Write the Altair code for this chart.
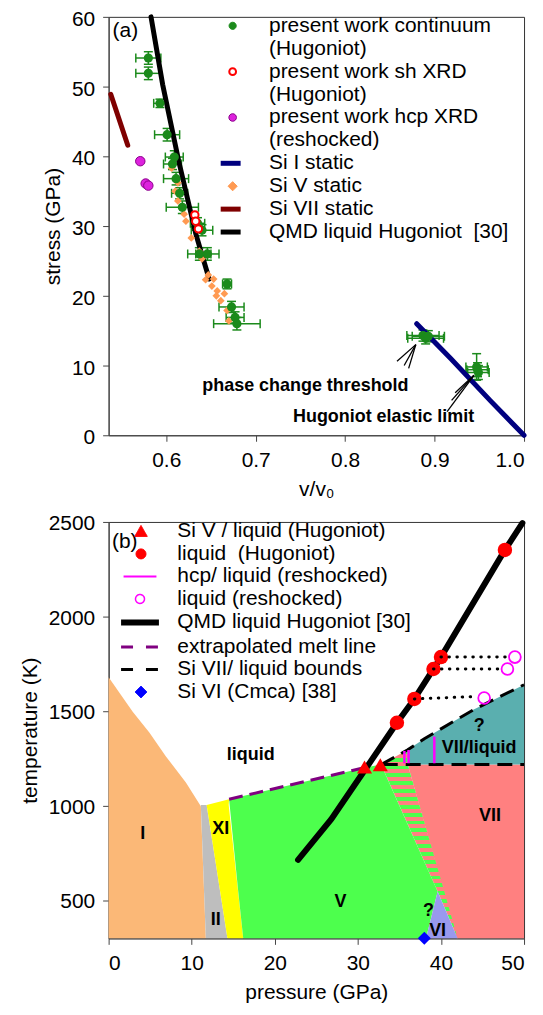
import altair as alt
import pandas as pd

FONT = "Liberation Sans"

# ======================= panel (a) data =======================
cont_v = [0.580, 0.580, 0.593, 0.601, 0.609, 0.607, 0.611, 0.615, 0.618, 0.635, 0.640,
          0.637, 0.646, 0.668, 0.673, 0.677, 0.679, 0.887, 0.890, 0.893, 0.947, 0.949, 0.948]
cont_s = [54.1, 51.9, 47.6, 43.1, 39.9, 38.9, 36.8, 34.7, 32.7, 30.4, 29.4,
          26.0, 26.0, 21.7, 18.4, 16.9, 16.0, 14.3, 13.9, 14.2, 9.8, 9.0, 9.4]
cont_verr = [0.014, 0.014, 0.007, 0.014, 0.010, 0.010, 0.014, 0.009, 0.018, 0.008, 0.012,
             0.013, 0.013, 0.005, 0.014, 0.010, 0.026, 0.018, 0.020, 0.018, 0.012, 0.012, 0.012]
cont_serr = [0.9, 0.9, 0.6, 0.9, 0.9, 0.8, 0.9, 0.8, 0.9, 0.8, 0.8,
             0.9, 0.9, 0.7, 0.8, 0.8, 0.9, 0.8, 0.8, 0.8, 1.9, 1.0, 1.0]

sh_v = [0.632, 0.633, 0.636]
sh_s = [31.6, 30.7, 29.6]

hcp_v = [0.571, 0.577, 0.580]
hcp_s = [39.3, 36.1, 35.8]

siV_v = [0.606, 0.606, 0.613, 0.610, 0.613, 0.620, 0.622, 0.628, 0.637, 0.640,
         0.644, 0.653, 0.651, 0.657, 0.656, 0.665, 0.661, 0.668, 0.670, 0.647]
siV_s = [39.0, 38.3, 36.2, 35.0, 33.6, 31.7, 30.7, 28.3, 26.4, 25.3,
         22.3, 22.4, 21.4, 20.7, 20.0, 20.3, 19.3, 17.9, 16.4, 23.0]

siI_v = [0.880, 0.918, 0.962, 1.000]
siI_s = [16.0, 11.0, 5.0, 0.0]

siVII_v = [0.538, 0.557]
siVII_s = [48.9, 41.6]

qmdA_v = [0.583, 0.596, 0.614, 0.633, 0.648]
qmdA_s = [60.0, 50.3, 39.3, 28.9, 22.4]

annA_text = ["phase change threshold", "Hugoniot elastic limit"]
annA_v = [0.7556, 0.843]
annA_s = [7.1, 2.6]

arrA_v = [0.858, 0.866, 0.871, 0.914, 0.919, 0.923]
arrA_s = [10.6, 10.0, 9.6, 3.4, 5.0, 6.1]
arrA_v2 = [0.879, 0.879, 0.879, 0.944, 0.944, 0.944]
arrA_s2 = [13.0, 13.0, 13.0, 8.6, 8.6, 8.6]

tagA_v = [0.540]
tagA_s = [57.9]
tagA_text = ["(a)"]

A_NAMES = ["present work continuum", "(Hugoniot)", "present work sh XRD", "(Hugoniot) ",
           "present work hcp XRD", "(reshocked)", "Si I static", "Si V static",
           "Si VII static", "QMD liquid Hugoniot\u00a0 [30]"]

# ======================= panel (b) data =======================
I_T = [300, 998, 1124, 1261, 1387, 1497, 1597, 1680]
I_L = [0, 0, 0, 0, 0, 0, 0, 0]
I_R = [11.7, 11.1, 9.3, 6.9, 4.9, 2.9, 1.3, 0.0]

II_T = [300, 1005]
II_L = [11.7, 11.1]
II_R = [14.3, 11.8]

XI_T = [300, 1005, 1035]
XI_L = [14.3, 11.8, 14.5]
XI_R = [16.2, 14.45, 14.5]

V_T = [300, 547, 1035, 1203, 1218]
V_L = [16.2, 15.6, 14.5, 30.9, 32.8]
V_R = [38.2, 39.6, 34.65, 32.95, 32.8]

VII_T = [300, 1218]
VII_L = [41.9, 36.0]
VII_R = [50, 50]

CHK_T = [300, 547, 1218, 1296]
CHK_L = [42.0, 39.6, 32.8, 36.0]
CHK_R = [42.0, 40.4, 36.0, 36.0]

VI_T = [300, 547]
VI_L = [38.2, 39.6]
VI_R = [42.0, 39.6]

TEAL_T = [1218, 1296, 1355, 1510, 1640]
TEAL_L = [36.0, 36.0, 38.0, 44.0, 50.0]
TEAL_R = [50, 50, 50, 50, 50]

qmdB_P = [22.8, 26.8, 31.0, 34.7, 36.8, 40.0, 47.7, 49.8]
qmdB_T = [715, 930, 1200, 1439, 1565, 1786, 2352, 2494]

melt_P = [14.5, 30.9]
melt_T = [1035, 1203]

bnd_seg = ["u", "u", "u", "u", "u", "h", "h"]
bnd_P = [32.8, 36.0, 38.0, 44.0, 50.0, 33.0, 50.0]
bnd_T = [1218, 1296, 1355, 1510, 1640, 1218, 1218]

tri_P = [30.8, 32.7]
tri_T = [1205, 1217]

liqH_P = [34.7, 36.8, 39.1, 40.0, 47.7]
liqH_T = [1439, 1565, 1723, 1786, 2352]

liqR_P = [45.2, 48.0, 48.9]
liqR_T = [1570, 1723, 1786]

dot_seg = [1, 1, 2, 2, 3, 3]
dot_P = [36.8, 44.4, 39.1, 47.2, 40.0, 48.1]
dot_T = [1565, 1578, 1723, 1723, 1786, 1786]

hcpB_P = [35.6, 36.1, 39.2]
hcpB_T = [1225, 1225, 1225]
hcpB_T2 = [1290, 1295, 1366]

siVI_P = [38.0]
siVI_T = [300]

labB_text = ["liquid", "I", "II", "XI", "V", "VII", "?", "VI", "?", "VII/liquid"]
labB_P = [17.1, 4.1, 12.9, 13.5, 27.9, 45.9, 38.5, 39.6, 44.6, 44.6]
labB_T = [1266, 851, 395, 877, 494, 946, 442, 337, 1423, 1308]

tagB_P = [0.4]
tagB_T = [2395]
tagB_text = ["(b)"]

B_NAMES = ["Si V / liquid (Hugoniot)", "liquid \u00a0(Hugoniot)", "hcp/ liquid (reshocked)",
           "liquid (reshocked)", "QMD liquid Hugoniot [30]", "extrapolated melt line",
           "Si VII/ liquid bounds", "Si VI (Cmca) [38]"]

# ======================= styles =======================
GREEN = "#1B8A1B"
ORANGE = "#FF9A52"
NAVY = "#00007F"
DARKRED = "#7F0000"
MAG = "#DD22DD"
MAGDARK = "#8B008B"
PINK = "#FF00FF"
PURPLE = "#800080"
TR = "transparent"

C_ORANGE = "#FBB877"
C_GRAY = "#BEBEBE"
C_YELLOW = "#FFFF00"
C_GREEN = "#4DFF4D"
C_VI = "#9999EE"
C_VII = "#FF8080"
C_TEAL = "#5AAFAF"

ENTRY = 21  # legend entry box (px); symbol size chosen so sqrt(size)+strokeWidth == ENTRY


def r3(x):
    return round(x, 4)


# legend symbol paths, in pixels, converted to Vega's unit box (scale k = sqrt(size)/2)
def sym_path(kind, dims, wpx, sw, dxpx=0.0):
    k = (ENTRY - sw) / 2.0
    w = r3(wpx / k)
    dx = dxpx / k
    padp = f"M{-w},0M{w},0"
    if kind == "pad":
        return padp
    if kind == "circle":
        r = dims / k
        return (f"M{-w},0M{r3(dx + r)},0A{r3(r)},{r3(r)} 0 1,1 {r3(dx - r)},0"
                f"A{r3(r)},{r3(r)} 0 1,1 {r3(dx + r)},0ZM{w},0")
    if kind == "diamond":
        h = dims / k
        return f"M{-w},0M{r3(dx)},{r3(-h)}L{r3(dx + h)},0L{r3(dx)},{r3(h)}L{r3(dx - h)},0ZM{w},0"
    if kind == "triangle":
        hw, top, bot = (d / k for d in dims)
        return f"M{-w},0M{r3(dx)},{r3(-top)}L{r3(dx + hw)},{r3(bot)}L{r3(dx - hw)},{r3(bot)}ZM{w},0"
    if kind == "line":
        h = dims / k
        return f"M{-w},0M{r3(dx - h)},0L{r3(dx + h)},0M{w},0"
    return padp


A_SW = [1, 1, 2, 1, 1, 1, 5, 1, 5, 5]
A_KIND = [("circle", 3.6), ("pad", 0), ("circle", 3.4), ("pad", 0), ("circle", 3.8), ("pad", 0),
          ("line", 10), ("diamond", 4.6), ("line", 10), ("line", 10)]
A_DX = [2, 0, 2, 0, 2, 0, 0, 2, 0, 0]
A_SHAPE = [sym_path(kd, dm, 10, sw, dx) for (kd, dm), sw, dx in zip(A_KIND, A_SW, A_DX)]
A_SIZE = [(ENTRY - sw) ** 2 for sw in A_SW]
A_FILL = [GREEN, TR, "white", TR, MAG, TR, TR, ORANGE, TR, TR]
A_STROKE = [GREEN, TR, "red", TR, MAGDARK, TR, NAVY, ORANGE, DARKRED, "black"]

B_SW = [1, 1, 2, 1.5, 6, 3, 3, 1]
B_KIND = [("triangle", (6.3, 6.0, 5.0)), ("circle", 5.0), ("line", 16.5), ("circle", 4.5),
          ("line", 19), ("line", 19), ("line", 19), ("diamond", 6.0)]
B_DX = [1, 1, 0, 0, 0, 0, 0, 1]
B_SHAPE = [sym_path(kd, dm, 19, sw, dx) for (kd, dm), sw, dx in zip(B_KIND, B_SW, B_DX)]
B_SIZE = [(ENTRY - sw) ** 2 for sw in B_SW]
B_FILL = ["red", "red", TR, TR, TR, TR, TR, "blue"]
B_STROKE = ["red", "red", PINK, PINK, "black", PURPLE, "black", "blue"]
B_DASH = [[1, 0], [1, 0], [1, 0], [1, 0], [1, 0], [12, 13], [12, 13], [1, 0]]


def legend_carrier(names, legend, fill, stroke, shape, size, sw, xenc, yenc, dash=None):
    empty = pd.DataFrame({"series": pd.Series([], dtype=str),
                          "px": pd.Series([], dtype=float), "py": pd.Series([], dtype=float)})
    enc = dict(
        x=xenc("px"), y=yenc("py"),
        fill=alt.Fill("series:N", scale=alt.Scale(domain=names, range=fill), legend=legend),
        stroke=alt.Stroke("series:N", scale=alt.Scale(domain=names, range=stroke), legend=legend),
        shape=alt.Shape("series:N", scale=alt.Scale(domain=names, range=shape), legend=legend),
        size=alt.Size("series:N", scale=alt.Scale(type="ordinal", domain=names, range=size), legend=legend),
        strokeWidth=alt.StrokeWidth("series:N", scale=alt.Scale(type="ordinal", domain=names, range=sw),
                                    legend=legend),
    )
    if dash is not None:
        enc["strokeDash"] = alt.StrokeDash("series:N", scale=alt.Scale(domain=names, range=dash), legend=legend)
    return alt.Chart(empty).mark_point(opacity=1).encode(**enc)


# ======================= panel (a) chart =======================
sxa = alt.Scale(domain=[0.5356, 1.0], nice=False, zero=False)
sya = alt.Scale(domain=[0, 60], nice=False, zero=False)
axa_x = alt.Axis(title="v/v\u2080", values=[0.6, 0.7, 0.8, 0.9, 1.0], format=".1f")
axa_y = alt.Axis(title="stress (GPa)", values=[0, 10, 20, 30, 40, 50, 60], labelOffset=2.5)


def XA(f):
    return alt.X(f"{f}:Q", scale=sxa, axis=axa_x)


def YA(f):
    return alt.Y(f"{f}:Q", scale=sya, axis=axa_y)


legA = alt.Legend(title=None, orient="none", legendX=112, legendY=-1.5, labelFont=FONT,
                  labelFontSize=21, labelColor="black", labelLimit=450, labelOffset=28,
                  rowPadding=1, padding=0)

df_cont = pd.DataFrame({"v": cont_v, "s": cont_s, "ve": cont_verr, "se": cont_serr})
base_err = alt.Chart(df_cont).transform_calculate(
    vlo="datum.v - datum.ve", vhi="datum.v + datum.ve",
    slo="datum.s - datum.se", shi="datum.s + datum.se")
err_h = base_err.mark_rule(color=GREEN, strokeWidth=1.5).encode(x=XA("vlo"), x2=alt.X2("vhi"), y=YA("s"))
err_v = base_err.mark_rule(color=GREEN, strokeWidth=1.5).encode(x=XA("v"), y=YA("slo"), y2=alt.Y2("shi"))
cap_l = base_err.mark_tick(orient="vertical", color=GREEN, size=9, thickness=1.5, opacity=1).encode(x=XA("vlo"), y=YA("s"))
cap_r = base_err.mark_tick(orient="vertical", color=GREEN, size=9, thickness=1.5, opacity=1).encode(x=XA("vhi"), y=YA("s"))
cap_b = base_err.mark_tick(orient="horizontal", color=GREEN, size=9, thickness=1.5, opacity=1).encode(x=XA("v"), y=YA("slo"))
cap_t = base_err.mark_tick(orient="horizontal", color=GREEN, size=9, thickness=1.5, opacity=1).encode(x=XA("v"), y=YA("shi"))


def line_a(vv, ss, color, width):
    return alt.Chart(pd.DataFrame({"v": vv, "s": ss})).mark_line(
        color=color, strokeWidth=width, strokeCap="round").encode(x=XA("v"), y=YA("s"))


l_siI = line_a(siI_v, siI_s, NAVY, 5)
l_siVII = line_a(siVII_v, siVII_s, DARKRED, 5)
l_qmdA = line_a(qmdA_v, qmdA_s, "black", 5)

p_siV = alt.Chart(pd.DataFrame({"v": siV_v, "s": siV_s})).mark_point(
    shape="diamond", filled=True, color=ORANGE, size=60, opacity=1).encode(x=XA("v"), y=YA("s"))
p_cont = alt.Chart(pd.DataFrame({"v": cont_v, "s": cont_s})).mark_point(
    shape="circle", filled=True, color=GREEN, size=85, opacity=1).encode(x=XA("v"), y=YA("s"))
p_hcp = alt.Chart(pd.DataFrame({"v": hcp_v, "s": hcp_s})).mark_point(
    shape="circle", filled=True, fill=MAG, stroke=MAGDARK, strokeWidth=1, size=90, opacity=1).encode(
    x=XA("v"), y=YA("s"))
p_sh = alt.Chart(pd.DataFrame({"v": sh_v, "s": sh_s})).mark_point(
    shape="circle", fill="white", stroke="red", strokeWidth=2, size=55, opacity=1).encode(
    x=XA("v"), y=YA("s"))

ann_a = alt.Chart(pd.DataFrame({"v": annA_v, "s": annA_s, "t": annA_text})).mark_text(
    font=FONT, fontSize=18, fontWeight="bold", color="black").encode(x=XA("v"), y=YA("s"), text="t:N")
arr_a = alt.Chart(pd.DataFrame({"v": arrA_v, "s": arrA_s, "v2": arrA_v2, "s2": arrA_s2})).mark_rule(
    color="black", strokeWidth=1.3).encode(x=XA("v"), y=YA("s"), x2=alt.X2("v2"), y2=alt.Y2("s2"))
tag_a = alt.Chart(pd.DataFrame({"v": tagA_v, "s": tagA_s, "t": tagA_text})).mark_text(
    font=FONT, fontSize=21, align="left", color="black").encode(x=XA("v"), y=YA("s"), text="t:N")

leg_a = legend_carrier(A_NAMES, legA, A_FILL, A_STROKE, A_SHAPE, A_SIZE, A_SW, XA, YA)

panel_a = alt.layer(err_h, err_v, cap_l, cap_r, cap_b, cap_t, l_siI, l_siVII, l_qmdA,
                    p_siV, p_cont, p_hcp, p_sh, ann_a, arr_a, tag_a, leg_a).properties(
    width=417, height=420)

# ======================= panel (b) chart =======================
sxb = alt.Scale(domain=[0, 50], nice=False, zero=False)
syb = alt.Scale(domain=[300, 2500], nice=False, zero=False)
axb_x = alt.Axis(title="pressure (GPa)", values=[0, 10, 20, 30, 40, 50])
axb_y = alt.Axis(title="temperature (K)", values=[500, 1000, 1500, 2000, 2500], format="d",
                 labelOffset=1.5)


def XB(f):
    return alt.X(f"{f}:Q", scale=sxb, axis=axb_x)


def YB(f):
    return alt.Y(f"{f}:Q", scale=syb, axis=axb_y)


legB = alt.Legend(title=None, orient="none", legendX=21, legendY=-1, labelFont=FONT,
                  labelFontSize=21, labelColor="black", labelLimit=450, labelOffset=27,
                  rowPadding=0.6, padding=0)


def region(Tv, Lv, Rv, color):
    return alt.Chart(pd.DataFrame({"T": Tv, "L": Lv, "R": Rv})).mark_area(
        orient="horizontal", color=color, opacity=1).encode(y=YB("T"), x=XB("L"), x2=alt.X2("R"))


stops = []
NSTRIPE = 48
for i in range(NSTRIPE):
    c = C_GREEN if i % 2 == 0 else C_VII
    stops.append(alt.GradientStop(color=c, offset=i / NSTRIPE))
    stops.append(alt.GradientStop(color=c, offset=(i + 1) / NSTRIPE))
checker = alt.Gradient(gradient="linear", stops=stops, x1=0, x2=0, y1=0, y2=1)

reg_I = region(I_T, I_L, I_R, C_ORANGE)
reg_II = region(II_T, II_L, II_R, C_GRAY)
reg_XI = region(XI_T, XI_L, XI_R, C_YELLOW)
reg_VII = region(VII_T, VII_L, VII_R, C_VII)
reg_CHK = region(CHK_T, CHK_L, CHK_R, checker)
reg_V = region(V_T, V_L, V_R, C_GREEN)
reg_VI = region(VI_T, VI_L, VI_R, C_VI)
reg_TEAL = region(TEAL_T, TEAL_L, TEAL_R, C_TEAL)

l_melt = alt.Chart(pd.DataFrame({"P": melt_P, "T": melt_T})).mark_line(
    color=PURPLE, strokeWidth=3, strokeDash=[14, 7]).encode(x=XB("P"), y=YB("T"))
l_bnd = alt.Chart(pd.DataFrame({"P": bnd_P, "T": bnd_T, "seg": bnd_seg})).mark_line(
    color="black", strokeWidth=3, strokeDash=[15, 8]).encode(x=XB("P"), y=YB("T"), detail="seg:N")
l_qmdB = alt.Chart(pd.DataFrame({"P": qmdB_P, "T": qmdB_T})).mark_line(
    color="black", strokeWidth=6, strokeCap="round").encode(x=XB("P"), y=YB("T"))
r_hcp = alt.Chart(pd.DataFrame({"P": hcpB_P, "T": hcpB_T, "T2": hcpB_T2})).mark_rule(
    color=PINK, strokeWidth=2.5).encode(x=XB("P"), y=YB("T"), y2=alt.Y2("T2"))

p_tri = alt.Chart(pd.DataFrame({"P": tri_P, "T": tri_T})).mark_point(
    shape="triangle-up", filled=True, color="red", size=230, opacity=1).encode(x=XB("P"), y=YB("T"))
p_liqH = alt.Chart(pd.DataFrame({"P": liqH_P, "T": liqH_T})).mark_point(
    shape="circle", filled=True, color="red", size=210, opacity=1).encode(x=XB("P"), y=YB("T"))
p_liqR = alt.Chart(pd.DataFrame({"P": liqR_P, "T": liqR_T})).mark_point(
    shape="circle", color=PINK, strokeWidth=1.8, size=140, opacity=1).encode(x=XB("P"), y=YB("T"))
p_siVI = alt.Chart(pd.DataFrame({"P": siVI_P, "T": siVI_T})).mark_point(
    shape="diamond", filled=True, color="blue", size=170, opacity=1, clip=False).encode(x=XB("P"), y=YB("T"))

dots_b = alt.Chart(pd.DataFrame({"P": dot_P, "T": dot_T, "seg": dot_seg})).mark_line(
    color="black", strokeWidth=3, strokeDash=[0.5, 7.5], strokeCap="round").encode(
    x=XB("P"), y=YB("T"), detail="seg:N")

lab_b = alt.Chart(pd.DataFrame({"P": labB_P, "T": labB_T, "t": labB_text})).mark_text(
    font=FONT, fontSize=18, fontWeight="bold", color="black").encode(x=XB("P"), y=YB("T"), text="t:N")
tag_b = alt.Chart(pd.DataFrame({"P": tagB_P, "T": tagB_T, "t": tagB_text})).mark_text(
    font=FONT, fontSize=21, align="left", color="black").encode(x=XB("P"), y=YB("T"), text="t:N")

leg_b = legend_carrier(B_NAMES, legB, B_FILL, B_STROKE, B_SHAPE, B_SIZE, B_SW, XB, YB, dash=B_DASH)

panel_b = alt.layer(reg_I, reg_II, reg_XI, reg_VII, reg_CHK, reg_V, reg_VI, reg_TEAL,
                    l_melt, l_bnd, l_qmdB, r_hcp, p_tri, p_liqH, dots_b, p_liqR, p_siVI,
                    lab_b, tag_b, leg_b).properties(width=417, height=418)

chans = dict(x="independent", y="independent", fill="independent", stroke="independent",
             shape="independent", size="independent", strokeWidth="independent",
             strokeDash="independent")

chart = alt.vconcat(panel_a, panel_b, spacing=10).resolve_scale(**chans).resolve_legend(
    fill="independent", stroke="independent", shape="independent", size="independent",
    strokeWidth="independent", strokeDash="independent"
).properties(
    padding={"left": 10, "top": -4, "right": 0, "bottom": 0}
).configure_view(stroke="#333333", strokeWidth=1).configure_axis(
    labelFont=FONT, titleFont=FONT, labelFontSize=21, titleFontSize=21, titleFontWeight="normal",
    labelColor="black", titleColor="black", tickSize=6, tickColor="#444444", domainColor="#444444",
    grid=False, labelPadding=8, titlePadding=8)

chart.save("out.html", embed_options={"renderer": "svg", "actions": False})
